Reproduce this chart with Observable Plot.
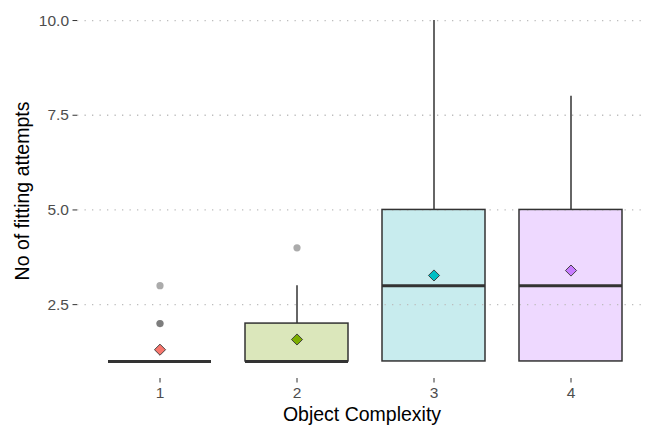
<!DOCTYPE html>
<html>
<head>
<meta charset="utf-8">
<script src="https://cdn.jsdelivr.net/npm/d3@7"></script>
<script src="https://cdn.jsdelivr.net/npm/@observablehq/plot@0.6"></script>
<style>
  html, body { margin: 0; padding: 0; background: #fff; }
  #chart svg { display: block; }
</style>
</head>
<body>
<div id="chart"></div>
<script>
// Box-plot summary of fitting attempts per object complexity level
const complexity   = [1, 2, 3, 4];
const lowerWhisker = [1, 1, 1, 1];
const q1           = [1, 1, 1, 1];
const median       = [1, 1, 3, 3];
const q3           = [1, 2, 5, 5];
const upperWhisker = [1, 3, 10, 8];
const means        = [1.31, 1.58, 3.27, 3.40];

// Points beyond the whiskers
const outlierLevel = [1, 1, 1, 2];
const outlierValue = [2, 2, 3, 4];

// Y tick values
const yTicks = [2.5, 5, 7.5, 10];

// Group colours (ggplot default hue palette) and their pale box fills
const palette = ["#F8766D", "#7CAE00", "#00BFC4", "#C77CFF"];
const boxFill = ["#fdd9d6", "#dbe7bb", "#c8ecee", "#eed9ff"];

const boxes = complexity.map((c, i) => ({
  level: c,
  lo: lowerWhisker[i],
  q1: q1[i],
  median: median[i],
  q3: q3[i],
  hi: upperWhisker[i],
  mean: means[i],
  pale: boxFill[i]
}));
const outliers = outlierLevel.map((c, i) => ({level: c, value: outlierValue[i]}));

const ink = "#333333";
const step = 137.33;
const first = 159, last = 571;

const chart = Plot.plot({
  width: 646,
  height: 425,
  marginLeft: 77,
  marginRight: 0,
  marginTop: 3,
  marginBottom: 47,
  style: {fontFamily: "'Liberation Sans', Arial, sans-serif", background: "#fff"},
  x: {
    type: "band",
    domain: complexity,
    range: [first - step / 2, last + step / 2],
    paddingInner: 0.25,
    paddingOuter: 0.125
  },
  y: {domain: [0.55, 10.45]},
  color: {domain: complexity, range: palette},
  marks: [
    // interquartile boxes (under the grid, as the grid shows through them)
    Plot.barY(boxes, {
      x: "level", y1: "q1", y2: "q3",
      fill: d => d.pale
    }),
    // dotted major grid
    Plot.ruleY(yTicks, {stroke: "#bdbdbd", strokeWidth: 1.3, strokeDasharray: "1.3,6.2"}),
    // whiskers
    Plot.ruleX(boxes, {x: "level", y1: "q3", y2: "hi", stroke: ink, strokeWidth: 1.5}),
    Plot.ruleX(boxes, {x: "level", y1: "lo", y2: "q1", stroke: ink, strokeWidth: 1.5}),
    // box outlines
    Plot.barY(boxes, {
      x: "level", y1: "q1", y2: "q3",
      fill: "none", stroke: ink, strokeWidth: 1.5
    }),
    // medians
    Plot.tickY(boxes, {x: "level", y: "median", stroke: ink, strokeWidth: 3}),
    // outliers
    Plot.dot(outliers, {x: "level", y: "value", r: 3.6, fill: "#444", fillOpacity: 0.45, stroke: "none"}),
    // means
    Plot.dot(boxes, {
      x: "level", y: "mean", symbol: "diamond2", r: 5,
      fill: "level", stroke: ink, strokeWidth: 0.9
    }),
    // axes
    Plot.axisY({
      ticks: yTicks, tickFormat: d3.format(".1f"),
      tickSize: 4.5, tickPadding: 4, fontSize: 15.5,
      stroke: ink, fill: "#4d4d4d", label: null
    }),
    Plot.axisX({
      tickSize: 4.5, tickPadding: 4, fontSize: 15.5,
      stroke: ink, fill: "#4d4d4d", label: null
    }),
    // axis titles
    Plot.text(["Object Complexity"], {
      frameAnchor: "bottom", dy: 36, fontSize: 19.5, fill: "#000",
      lineAnchor: "middle", textAnchor: "middle"
    }),
    Plot.text(["No of fitting attempts"], {
      frameAnchor: "left", dx: -55, rotate: -90, fontSize: 19.5, fill: "#000",
      lineAnchor: "middle", textAnchor: "middle"
    })
  ]
});

document.getElementById("chart").appendChild(chart);
</script>
</body>
</html>
